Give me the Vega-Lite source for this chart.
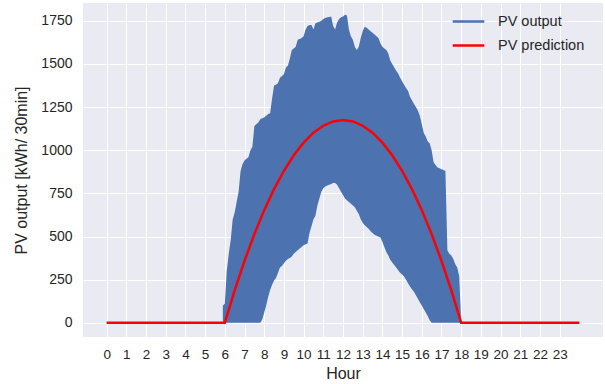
{
  "$schema": "https://vega.github.io/schema/vega-lite/v6.json",
  "autosize": {"type": "none"},
  "padding": {"left": 83, "top": 3, "right": 2, "bottom": 47},
  "width": 520,
  "height": 334,
  "config": {
    "view": {"stroke": null, "fill": "#EAEAF2"},
    "font": "Liberation Sans",
    "axis": {
      "domain": false, "ticks": false, "tickSize": 0,
      "gridColor": "#FFFFFF", "gridWidth": 1, "gridOpacity": 1,
      "labelColor": "#262626", "titleColor": "#262626",
      "labelFont": "Liberation Sans", "titleFont": "Liberation Sans",
      "labelFontSize": 14, "titleFontSize": 16, "titleFontWeight": "normal",
      "labelOverlap": false
    },
    "axisX": {"labelOverlap": false, "labelFlush": false, "labelFontSize": 13.5},
    "legend": {
      "labelFont": "Liberation Sans", "labelFontSize": 14.5, "labelColor": "#262626"
    }
  },
  "datasets": {
    "pv": [
      {"hour": 5.9, "lo": 0, "hi": 100},
      {"hour": 6.0, "lo": 0, "hi": 110},
      {"hour": 6.1, "lo": 0, "hi": 300},
      {"hour": 6.2, "lo": 0, "hi": 400},
      {"hour": 6.3, "lo": 0, "hi": 480},
      {"hour": 6.4, "lo": 0, "hi": 600},
      {"hour": 6.5, "lo": 0, "hi": 640},
      {"hour": 6.6, "lo": 0, "hi": 700},
      {"hour": 6.7, "lo": 0, "hi": 760},
      {"hour": 6.8, "lo": 0, "hi": 880},
      {"hour": 6.9, "lo": 0, "hi": 920},
      {"hour": 7.0, "lo": 0, "hi": 940},
      {"hour": 7.1, "lo": 0, "hi": 950},
      {"hour": 7.2, "lo": 0, "hi": 960},
      {"hour": 7.3, "lo": 0, "hi": 1000},
      {"hour": 7.4, "lo": 0, "hi": 1020},
      {"hour": 7.5, "lo": 0, "hi": 1140},
      {"hour": 7.6, "lo": 0, "hi": 1150},
      {"hour": 7.7, "lo": 0, "hi": 1160},
      {"hour": 7.8, "lo": 0, "hi": 1180},
      {"hour": 7.9, "lo": 20, "hi": 1185},
      {"hour": 8.0, "lo": 60, "hi": 1190},
      {"hour": 8.1, "lo": 100, "hi": 1200},
      {"hour": 8.2, "lo": 150, "hi": 1210},
      {"hour": 8.3, "lo": 190, "hi": 1215},
      {"hour": 8.4, "lo": 220, "hi": 1300},
      {"hour": 8.5, "lo": 245, "hi": 1375},
      {"hour": 8.6, "lo": 260, "hi": 1380},
      {"hour": 8.7, "lo": 290, "hi": 1390},
      {"hour": 8.8, "lo": 320, "hi": 1420},
      {"hour": 8.9, "lo": 330, "hi": 1430},
      {"hour": 9.0, "lo": 345, "hi": 1440},
      {"hour": 9.1, "lo": 360, "hi": 1480},
      {"hour": 9.2, "lo": 370, "hi": 1490},
      {"hour": 9.3, "lo": 375, "hi": 1530},
      {"hour": 9.4, "lo": 385, "hi": 1580},
      {"hour": 9.5, "lo": 400, "hi": 1590},
      {"hour": 9.6, "lo": 410, "hi": 1600},
      {"hour": 9.7, "lo": 420, "hi": 1640},
      {"hour": 9.8, "lo": 430, "hi": 1645},
      {"hour": 9.9, "lo": 440, "hi": 1650},
      {"hour": 10.0, "lo": 450, "hi": 1660},
      {"hour": 10.1, "lo": 455, "hi": 1700},
      {"hour": 10.2, "lo": 460, "hi": 1720},
      {"hour": 10.3, "lo": 520, "hi": 1725},
      {"hour": 10.4, "lo": 560, "hi": 1725},
      {"hour": 10.5, "lo": 600, "hi": 1700},
      {"hour": 10.6, "lo": 620, "hi": 1735},
      {"hour": 10.7, "lo": 680, "hi": 1740},
      {"hour": 10.8, "lo": 720, "hi": 1745},
      {"hour": 10.9, "lo": 760, "hi": 1750},
      {"hour": 11.0, "lo": 780, "hi": 1760},
      {"hour": 11.1, "lo": 790, "hi": 1766},
      {"hour": 11.2, "lo": 795, "hi": 1770},
      {"hour": 11.3, "lo": 800, "hi": 1772},
      {"hour": 11.4, "lo": 805, "hi": 1775},
      {"hour": 11.5, "lo": 810, "hi": 1720},
      {"hour": 11.6, "lo": 810, "hi": 1700},
      {"hour": 11.7, "lo": 800, "hi": 1740},
      {"hour": 11.8, "lo": 780, "hi": 1760},
      {"hour": 11.9, "lo": 760, "hi": 1770},
      {"hour": 12.0, "lo": 740, "hi": 1775},
      {"hour": 12.1, "lo": 720, "hi": 1785},
      {"hour": 12.2, "lo": 710, "hi": 1780},
      {"hour": 12.3, "lo": 700, "hi": 1700},
      {"hour": 12.4, "lo": 690, "hi": 1660},
      {"hour": 12.5, "lo": 680, "hi": 1640},
      {"hour": 12.6, "lo": 670, "hi": 1600},
      {"hour": 12.7, "lo": 650, "hi": 1580},
      {"hour": 12.8, "lo": 630, "hi": 1600},
      {"hour": 12.9, "lo": 600, "hi": 1650},
      {"hour": 13.0, "lo": 580, "hi": 1690},
      {"hour": 13.1, "lo": 565, "hi": 1715},
      {"hour": 13.2, "lo": 555, "hi": 1710},
      {"hour": 13.3, "lo": 545, "hi": 1700},
      {"hour": 13.4, "lo": 530, "hi": 1690},
      {"hour": 13.5, "lo": 520, "hi": 1680},
      {"hour": 13.6, "lo": 510, "hi": 1670},
      {"hour": 13.7, "lo": 505, "hi": 1660},
      {"hour": 13.8, "lo": 500, "hi": 1650},
      {"hour": 13.9, "lo": 495, "hi": 1620},
      {"hour": 14.0, "lo": 470, "hi": 1600},
      {"hour": 14.1, "lo": 440, "hi": 1590},
      {"hour": 14.2, "lo": 410, "hi": 1580},
      {"hour": 14.3, "lo": 390, "hi": 1560},
      {"hour": 14.4, "lo": 365, "hi": 1520},
      {"hour": 14.5, "lo": 350, "hi": 1500},
      {"hour": 14.6, "lo": 335, "hi": 1480},
      {"hour": 14.7, "lo": 320, "hi": 1460},
      {"hour": 14.8, "lo": 305, "hi": 1445},
      {"hour": 14.9, "lo": 290, "hi": 1420},
      {"hour": 15.0, "lo": 280, "hi": 1400},
      {"hour": 15.1, "lo": 268, "hi": 1380},
      {"hour": 15.2, "lo": 250, "hi": 1360},
      {"hour": 15.3, "lo": 230, "hi": 1345},
      {"hour": 15.4, "lo": 210, "hi": 1310},
      {"hour": 15.5, "lo": 195, "hi": 1290},
      {"hour": 15.6, "lo": 180, "hi": 1270},
      {"hour": 15.7, "lo": 160, "hi": 1250},
      {"hour": 15.8, "lo": 140, "hi": 1230},
      {"hour": 15.9, "lo": 120, "hi": 1200},
      {"hour": 16.0, "lo": 100, "hi": 1150},
      {"hour": 16.1, "lo": 80, "hi": 1100},
      {"hour": 16.2, "lo": 60, "hi": 1080},
      {"hour": 16.3, "lo": 40, "hi": 1050},
      {"hour": 16.4, "lo": 15, "hi": 1040},
      {"hour": 16.5, "lo": 0, "hi": 1000},
      {"hour": 16.6, "lo": 0, "hi": 930},
      {"hour": 16.7, "lo": 0, "hi": 915},
      {"hour": 16.8, "lo": 0, "hi": 900},
      {"hour": 16.9, "lo": 0, "hi": 895},
      {"hour": 17.0, "lo": 0, "hi": 890},
      {"hour": 17.1, "lo": 0, "hi": 886},
      {"hour": 17.2, "lo": 0, "hi": 880},
      {"hour": 17.3, "lo": 0, "hi": 420},
      {"hour": 17.4, "lo": 0, "hi": 400},
      {"hour": 17.5, "lo": 0, "hi": 390},
      {"hour": 17.6, "lo": 0, "hi": 370},
      {"hour": 17.7, "lo": 0, "hi": 340},
      {"hour": 17.8, "lo": 0, "hi": 320},
      {"hour": 17.9, "lo": 0, "hi": 270},
      {"hour": 18.0, "lo": 0, "hi": 0}
    ],
    "pred": [
      {"hour": 0, "value": 0, "series": "PV prediction"},
      {"hour": 6, "value": 0, "series": "PV prediction"},
      {"hour": 6.5, "value": 188, "series": "PV prediction"},
      {"hour": 7, "value": 359, "series": "PV prediction"},
      {"hour": 7.5, "value": 514, "series": "PV prediction"},
      {"hour": 8, "value": 653, "series": "PV prediction"},
      {"hour": 8.5, "value": 775, "series": "PV prediction"},
      {"hour": 9, "value": 881, "series": "PV prediction"},
      {"hour": 9.5, "value": 971, "series": "PV prediction"},
      {"hour": 10, "value": 1044, "series": "PV prediction"},
      {"hour": 10.5, "value": 1102, "series": "PV prediction"},
      {"hour": 11, "value": 1142, "series": "PV prediction"},
      {"hour": 11.5, "value": 1167, "series": "PV prediction"},
      {"hour": 12, "value": 1175, "series": "PV prediction"},
      {"hour": 12.5, "value": 1167, "series": "PV prediction"},
      {"hour": 13, "value": 1142, "series": "PV prediction"},
      {"hour": 13.5, "value": 1102, "series": "PV prediction"},
      {"hour": 14, "value": 1044, "series": "PV prediction"},
      {"hour": 14.5, "value": 971, "series": "PV prediction"},
      {"hour": 15, "value": 881, "series": "PV prediction"},
      {"hour": 15.5, "value": 775, "series": "PV prediction"},
      {"hour": 16, "value": 653, "series": "PV prediction"},
      {"hour": 16.5, "value": 514, "series": "PV prediction"},
      {"hour": 17, "value": 359, "series": "PV prediction"},
      {"hour": 17.5, "value": 188, "series": "PV prediction"},
      {"hour": 18, "value": 0, "series": "PV prediction"},
      {"hour": 24, "value": 0, "series": "PV prediction"}
    ]
  },
  "encoding": {
    "x": {
      "field": "hour", "type": "quantitative",
      "scale": {"domain": [-1.2, 25.2], "nice": false, "zero": false},
      "axis": {
        "values": [0,1,2,3,4,5,6,7,8,9,10,11,12,13,14,15,16,17,18,19,20,21,22,23],
        "tickCount": 24,
        "title": "Hour", "labelPadding": 10, "titlePadding": 5,
        "labelFlush": false, "labelOverlap": false, "labelSeparation": 0, "labelBound": false
      }
    }
  },
  "layer": [
    {
      "data": {"name": "pv"},
      "mark": {"type": "area", "color": "#4C72B0", "opacity": 1},
      "encoding": {
        "y": {
          "field": "hi", "type": "quantitative",
          "scale": {"domain": [-82, 1853], "nice": false, "zero": false},
          "axis": {
            "values": [0, 250, 500, 750, 1000, 1250, 1500, 1750], "format": "d",
            "title": "PV output [kWh/ 30min]", "labelPadding": 11, "titlePadding": 11,
            "labelFlush": false
          }
        },
        "y2": {"field": "lo"}
      }
    },
    {
      "data": {"name": "pred"},
      "mark": {"type": "line", "strokeWidth": 2.5},
      "encoding": {
        "y": {"field": "value", "type": "quantitative"},
        "color": {
          "field": "series", "type": "nominal",
          "scale": {"domain": ["PV output", "PV prediction"], "range": ["#4C72B0", "#FF0000"]},
          "legend": {
            "title": null, "orient": "none", "legendX": 368, "legendY": 1,
            "symbolType": "stroke", "symbolSize": 1000, "symbolStrokeWidth": 2.5,
            "labelOffset": 12, "padding": 0, "rowPadding": -3
          }
        }
      }
    }
  ]
}
